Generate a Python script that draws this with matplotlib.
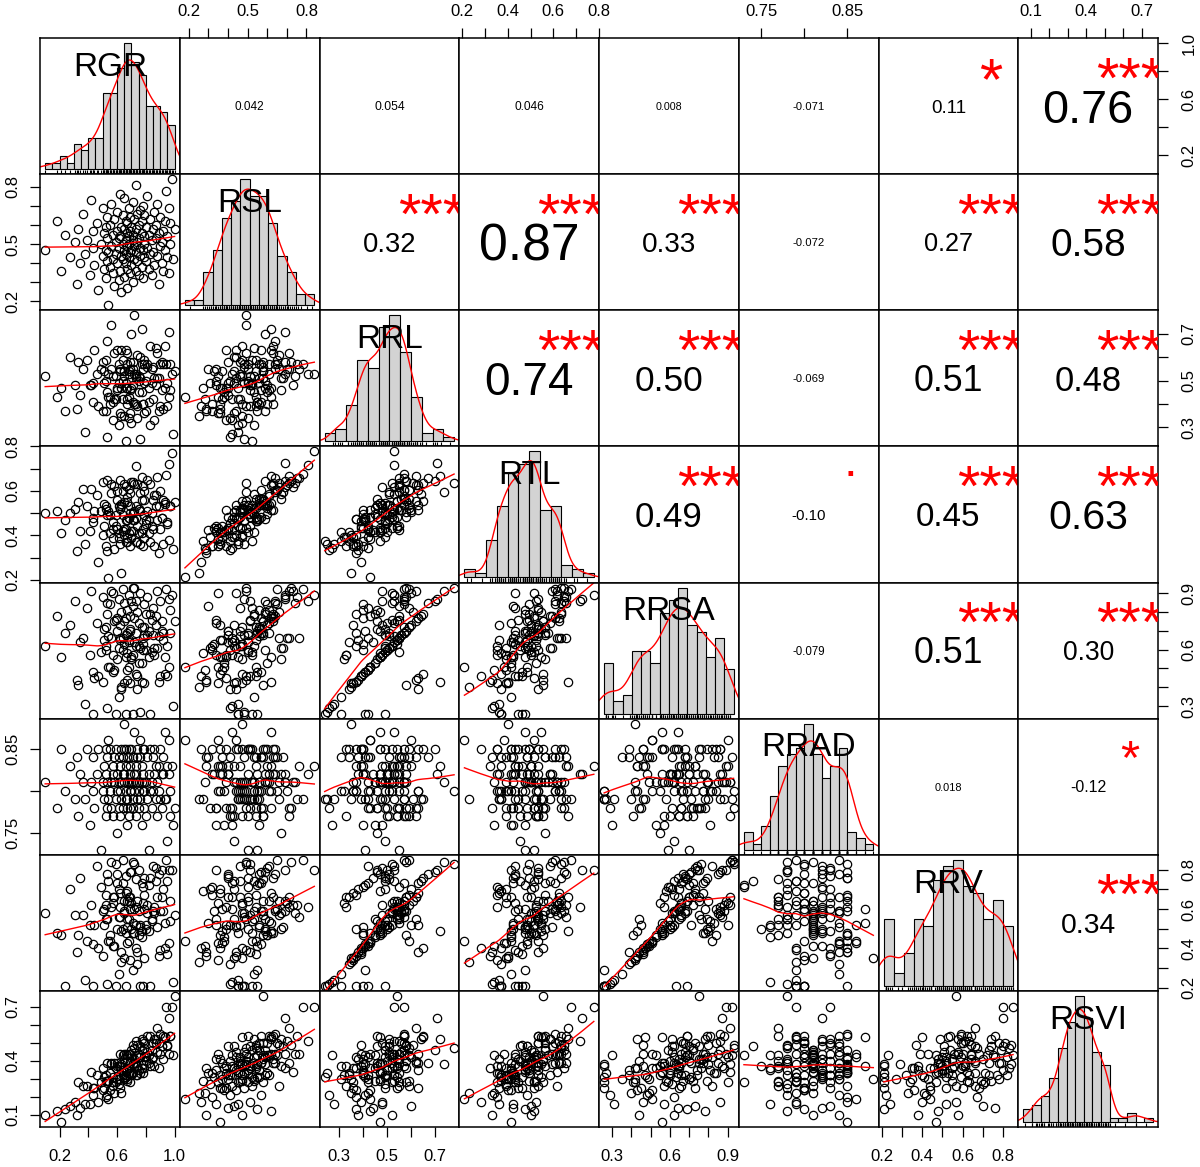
import numpy as np
import matplotlib
matplotlib.use("Agg")
import matplotlib.pyplot as plt
from matplotlib.transforms import offset_copy

plt.rcParams['font.family'] = ['Liberation Sans', 'DejaVu Sans']

NAMES = ["RGR", "RSL", "RRL", "RTL", "RRSA", "RRAD", "RRV", "RSVI"]

# ---- observations (one value per sample, same sample order in every list) ----
RGR = [0.10, 0.18, 0.21, 0.24, 0.27, 0.31, 0.32, 0.33, 0.34, 0.36,
       0.38, 0.39, 0.41, 0.42, 0.43, 0.43, 0.44, 0.46, 0.47, 0.49,
       0.50, 0.50, 0.51, 0.51, 0.52, 0.52, 0.52, 0.53, 0.53, 0.53,
       0.54, 0.54, 0.55, 0.55, 0.56, 0.56, 0.57, 0.57, 0.57, 0.58,
       0.58, 0.59, 0.59, 0.60, 0.60, 0.60, 0.61, 0.61, 0.61, 0.62,
       0.62, 0.62, 0.63, 0.63, 0.63, 0.64, 0.64, 0.64, 0.65, 0.65,
       0.65, 0.65, 0.66, 0.66, 0.66, 0.66, 0.67, 0.67, 0.67, 0.67,
       0.67, 0.68, 0.68, 0.68, 0.68, 0.69, 0.69, 0.69, 0.69, 0.70,
       0.70, 0.70, 0.71, 0.71, 0.71, 0.71, 0.72, 0.72, 0.72, 0.73,
       0.73, 0.73, 0.73, 0.74, 0.74, 0.74, 0.75, 0.75, 0.75, 0.76,
       0.76, 0.76, 0.77, 0.77, 0.77, 0.78, 0.78, 0.78, 0.79, 0.79,
       0.79, 0.79, 0.80, 0.80, 0.81, 0.81, 0.82, 0.82, 0.83, 0.83,
       0.84, 0.84, 0.85, 0.85, 0.86, 0.86, 0.87, 0.87, 0.88, 0.88,
       0.89, 0.89, 0.90, 0.90, 0.91, 0.91, 0.92, 0.92, 0.93, 0.93,
       0.94, 0.95, 0.95, 0.96, 0.96, 0.97, 0.97, 0.98, 0.99, 1.00]

RSL = [0.47, 0.62, 0.36, 0.55, 0.43, 0.51, 0.29, 0.58, 0.40, 0.66,
       0.45, 0.52, 0.34, 0.73, 0.48, 0.57, 0.39, 0.61, 0.26, 0.50,
       0.44, 0.69, 0.37, 0.56, 0.47, 0.32, 0.59, 0.41, 0.64, 0.53,
       0.18, 0.46, 0.38, 0.60, 0.49, 0.71, 0.35, 0.55, 0.42, 0.63,
       0.28, 0.51, 0.45, 0.57, 0.40, 0.67, 0.31, 0.53, 0.48, 0.76,
       0.36, 0.54, 0.44, 0.59, 0.25, 0.50, 0.65, 0.42, 0.47, 0.58,
       0.33, 0.74, 0.52, 0.40, 0.62, 0.45, 0.56, 0.37, 0.61, 0.49,
       0.27, 0.54, 0.69, 0.43, 0.50, 0.35, 0.64, 0.46, 0.57, 0.39,
       0.59, 0.47, 0.72, 0.52, 0.30, 0.55, 0.42, 0.63, 0.49, 0.36,
       0.58, 0.46, 0.81, 0.51, 0.66, 0.41, 0.53, 0.34, 0.60, 0.44,
       0.68, 0.48, 0.56, 0.38, 0.62, 0.47, 0.70, 0.32, 0.54, 0.43,
       0.65, 0.50, 0.41, 0.59, 0.48, 0.75, 0.37, 0.55, 0.63, 0.45,
       0.52, 0.34, 0.58, 0.46, 0.67, 0.39, 0.53, 0.60, 0.44, 0.71,
       0.29, 0.56, 0.49, 0.64, 0.40, 0.51, 0.57, 0.36, 0.62, 0.47,
       0.78, 0.54, 0.43, 0.69, 0.35, 0.61, 0.50, 0.84, 0.42, 0.58]

RRL = [0.52, 0.43, 0.47, 0.37, 0.60, 0.48, 0.38, 0.58, 0.44, 0.55,
       0.28, 0.59, 0.48, 0.48, 0.49, 0.41, 0.63, 0.53, 0.39, 0.55,
       0.37, 0.58, 0.54, 0.49, 0.59, 0.37, 0.50, 0.26, 0.67, 0.45,
       0.43, 0.53, 0.43, 0.40, 0.74, 0.55, 0.52, 0.41, 0.33, 0.62,
       0.42, 0.52, 0.42, 0.63, 0.47, 0.46, 0.49, 0.31, 0.57, 0.55,
       0.36, 0.54, 0.63, 0.47, 0.35, 0.50, 0.59, 0.42, 0.35, 0.54,
       0.54, 0.52, 0.24, 0.49, 0.63, 0.47, 0.40, 0.42, 0.57, 0.62,
       0.47, 0.43, 0.53, 0.54, 0.34, 0.36, 0.55, 0.58, 0.46, 0.47,
       0.70, 0.32, 0.58, 0.48, 0.55, 0.41, 0.53, 0.40, 0.78, 0.40,
       0.51, 0.52, 0.53, 0.39, 0.61, 0.34, 0.52, 0.50, 0.45, 0.60,
       0.51, 0.25, 0.57, 0.45, 0.72, 0.40, 0.55, 0.40, 0.59, 0.36,
       0.57, 0.49, 0.50, 0.37, 0.56, 0.57, 0.47, 0.41, 0.65, 0.31,
       0.49, 0.55, 0.56, 0.42, 0.51, 0.33, 0.64, 0.48, 0.51, 0.62,
       0.37, 0.51, 0.39, 0.57, 0.58, 0.46, 0.57, 0.38, 0.47, 0.65,
       0.57, 0.39, 0.49, 0.71, 0.43, 0.46, 0.57, 0.53, 0.27, 0.54]

RTL = [0.50, 0.51, 0.41, 0.47, 0.50, 0.52, 0.33, 0.55, 0.42, 0.61,
       0.36, 0.53, 0.42, 0.61, 0.46, 0.48, 0.51, 0.58, 0.28, 0.51,
       0.40, 0.64, 0.44, 0.54, 0.52, 0.35, 0.53, 0.33, 0.65, 0.49,
       0.21, 0.51, 0.41, 0.49, 0.59, 0.63, 0.43, 0.46, 0.39, 0.62,
       0.34, 0.49, 0.44, 0.60, 0.43, 0.56, 0.39, 0.41, 0.53, 0.65,
       0.36, 0.52, 0.53, 0.54, 0.23, 0.49, 0.60, 0.42, 0.40, 0.55,
       0.43, 0.63, 0.37, 0.43, 0.62, 0.47, 0.47, 0.39, 0.57, 0.55,
       0.37, 0.48, 0.61, 0.48, 0.41, 0.35, 0.59, 0.50, 0.53, 0.42,
       0.64, 0.39, 0.64, 0.50, 0.42, 0.47, 0.47, 0.51, 0.63, 0.37,
       0.53, 0.48, 0.71, 0.44, 0.63, 0.37, 0.52, 0.41, 0.52, 0.51,
       0.59, 0.36, 0.56, 0.41, 0.66, 0.43, 0.62, 0.35, 0.56, 0.39,
       0.60, 0.49, 0.45, 0.47, 0.51, 0.65, 0.41, 0.47, 0.63, 0.37,
       0.50, 0.44, 0.56, 0.43, 0.58, 0.35, 0.58, 0.53, 0.47, 0.66,
       0.32, 0.53, 0.43, 0.60, 0.48, 0.48, 0.56, 0.36, 0.54, 0.55,
       0.67, 0.46, 0.45, 0.72, 0.38, 0.53, 0.53, 0.77, 0.34, 0.55]

RRSA = [0.62, 0.78, 0.56, 0.69, 0.73, 0.86, 0.44, 0.41, 0.64, 0.66,
        0.31, 0.82, 0.57, 0.91, 0.26, 0.48, 0.45, 0.74, 0.46, 0.59,
        0.43, 0.88, 0.65, 0.71, 0.72, 0.62, 0.60, 0.29, 0.85, 0.79,
        0.51, 0.67, 0.51, 0.84, 0.91, 0.66, 0.90, 0.48, 0.57, 0.75,
        0.49, 0.76, 0.26, 0.77, 0.70, 0.55, 0.61, 0.35, 0.87, 0.66,
        0.73, 0.65, 0.39, 0.80, 0.40, 0.60, 0.92, 0.66, 0.42, 0.75,
        0.63, 0.85, 0.26, 0.68, 0.77, 0.56, 0.81, 0.49, 0.69, 0.44,
        0.58, 0.51, 0.89, 0.65, 0.64, 0.42, 0.78, 0.70, 0.71, 0.56,
        0.86, 0.55, 0.93, 0.57, 0.83, 0.26, 0.64, 0.77, 0.93, 0.47,
        0.69, 0.62, 0.86, 0.46, 0.80, 0.39, 0.62, 0.74, 0.53, 0.90,
        0.61, 0.27, 0.72, 0.53, 0.43, 0.63, 0.66, 0.60, 0.72, 0.42,
        0.84, 0.68, 0.60, 0.79, 0.68, 0.88, 0.56, 0.70, 0.79, 0.26,
        0.59, 0.76, 0.68, 0.82, 0.61, 0.57, 0.78, 0.73, 0.61, 0.91,
        0.43, 0.67, 0.46, 0.86, 0.70, 0.75, 0.69, 0.65, 0.56, 0.47,
        0.92, 0.46, 0.62, 0.87, 0.51, 0.81, 0.69, 0.89, 0.30, 0.75]

RRAD = [0.81, 0.78, 0.85, 0.80, 0.83, 0.79, 0.84, 0.77, 0.82, 0.81,
        0.79, 0.85, 0.76, 0.81, 0.80, 0.84, 0.78, 0.82, 0.85, 0.73,
        0.80, 0.81, 0.83, 0.79, 0.77, 0.85, 0.82, 0.78, 0.84, 0.81,
        0.86, 0.79, 0.80, 0.85, 0.81, 0.78, 0.83, 0.82, 0.77, 0.84,
        0.81, 0.85, 0.79, 0.80, 0.82, 0.75, 0.78, 0.84, 0.81, 0.83,
        0.80, 0.77, 0.85, 0.81, 0.79, 0.82, 0.84, 0.78, 0.88, 0.85,
        0.82, 0.81, 0.79, 0.83, 0.80, 0.85, 0.76, 0.84, 0.81, 0.78,
        0.79, 0.84, 0.81, 0.77, 0.85, 0.80, 0.82, 0.83, 0.78, 0.81,
        0.85, 0.80, 0.78, 0.81, 0.84, 0.79, 0.87, 0.82, 0.80, 0.83,
        0.77, 0.81, 0.82, 0.85, 0.79, 0.84, 0.80, 0.78, 0.81, 0.86,
        0.84, 0.79, 0.81, 0.76, 0.83, 0.85, 0.80, 0.82, 0.78, 0.81,
        0.80, 0.85, 0.77, 0.81, 0.84, 0.79, 0.82, 0.73, 0.85, 0.80,
        0.81, 0.78, 0.84, 0.80, 0.82, 0.85, 0.79, 0.83, 0.81, 0.77,
        0.83, 0.80, 0.79, 0.85, 0.82, 0.78, 0.84, 0.82, 0.87, 0.79,
        0.79, 0.83, 0.74, 0.82, 0.86, 0.80, 0.77, 0.83, 0.76, 0.78]

RRV = [0.58, 0.48, 0.47, 0.21, 0.70, 0.57, 0.38, 0.47, 0.76, 0.57,
       0.24, 0.44, 0.52, 0.62, 0.21, 0.42, 0.52, 0.82, 0.40, 0.71,
       0.36, 0.59, 0.60, 0.52, 0.62, 0.67, 0.55, 0.22, 0.78, 0.55,
       0.44, 0.74, 0.44, 0.47, 0.84, 0.61, 0.63, 0.41, 0.66, 0.66,
       0.41, 0.83, 0.21, 0.73, 0.78, 0.50, 0.70, 0.27, 0.56, 0.56,
       0.68, 0.61, 0.38, 0.49, 0.33, 0.50, 0.85, 0.73, 0.35, 0.64,
       0.59, 0.58, 0.21, 0.77, 0.68, 0.48, 0.51, 0.43, 0.64, 0.55,
       0.69, 0.44, 0.64, 0.55, 0.66, 0.34, 0.60, 0.66, 0.79, 0.50,
       0.79, 0.63, 0.84, 0.48, 0.53, 0.29, 0.60, 0.48, 0.83, 0.40,
       0.75, 0.52, 0.61, 0.38, 0.64, 0.32, 0.59, 0.80, 0.47, 0.52,
       0.51, 0.21, 0.73, 0.46, 0.49, 0.21, 0.63, 0.71, 0.67, 0.35,
       0.60, 0.76, 0.52, 0.50, 0.58, 0.62, 0.49, 0.72, 0.76, 0.21,
       0.54, 0.55, 0.59, 0.82, 0.58, 0.61, 0.74, 0.81, 0.51, 0.66,
       0.36, 0.78, 0.39, 0.59, 0.66, 0.80, 0.59, 0.70, 0.53, 0.40,
       0.85, 0.37, 0.74, 0.80, 0.43, 0.54, 0.64, 0.80, 0.23, 0.57]

RSVI = [0.10, 0.12, 0.06, 0.13, 0.15, 0.17, 0.10, 0.28, 0.14, 0.26,
        0.16, 0.26, 0.16, 0.34, 0.25, 0.21, 0.25, 0.32, 0.17, 0.28,
        0.24, 0.36, 0.25, 0.31, 0.29, 0.20, 0.32, 0.21, 0.39, 0.29,
        0.19, 0.29, 0.24, 0.33, 0.38, 0.39, 0.28, 0.31, 0.26, 0.39,
        0.22, 0.36, 0.28, 0.39, 0.30, 0.37, 0.27, 0.30, 0.37, 0.44,
        0.25, 0.37, 0.35, 0.38, 0.22, 0.35, 0.43, 0.32, 0.30, 0.41,
        0.31, 0.44, 0.31, 0.32, 0.44, 0.34, 0.35, 0.30, 0.43, 0.40,
        0.29, 0.36, 0.44, 0.36, 0.33, 0.28, 0.44, 0.40, 0.39, 0.33,
        0.46, 0.32, 0.49, 0.39, 0.33, 0.38, 0.37, 0.41, 0.47, 0.32,
        0.43, 0.39, 0.51, 0.37, 0.49, 0.32, 0.42, 0.35, 0.43, 0.42,
        0.48, 0.33, 0.46, 0.36, 0.52, 0.38, 0.51, 0.33, 0.47, 0.36,
        0.50, 0.42, 0.40, 0.42, 0.45, 0.54, 0.39, 0.43, 0.54, 0.37,
        0.46, 0.41, 0.50, 0.42, 0.52, 0.37, 0.52, 0.50, 0.45, 0.58,
        0.36, 0.50, 0.44, 0.55, 0.48, 0.48, 0.54, 0.41, 0.53, 0.53,
        0.70, 0.49, 0.48, 0.64, 0.44, 0.54, 0.54, 0.70, 0.43, 0.76]

# ---- upper-panel correlation texts (row-major over i<j) and significance ----
UPPER_TEXT = ["0.042", "0.054", "0.046", "0.008", "-0.071", "0.11", "0.76",
              "0.32", "0.87", "0.33", "-0.072", "0.27", "0.58",
              "0.74", "0.50", "-0.069", "0.51", "0.48",
              "0.49", "-0.10", "0.45", "0.63",
              "-0.079", "0.51", "0.30",
              "0.018", "-0.12",
              "0.34"]
UPPER_SIGNIF = ["", "", "", "", "", "*", "***",
                "***", "***", "***", "", "***", "***",
                "***", "***", "", "***", "***",
                "***", ".", "***", "***",
                "", "***", "***",
                "", "*",
                "***"]

# ---- axis ticks / tick labels ----
TICKS = {
    "RGR": [0.2, 0.4, 0.6, 0.8, 1.0],
    "RSL": [0.2, 0.3, 0.4, 0.5, 0.6, 0.7, 0.8],
    "RRL": [0.3, 0.4, 0.5, 0.6, 0.7],
    "RTL": [0.2, 0.3, 0.4, 0.5, 0.6, 0.7, 0.8],
    "RRSA": [0.3, 0.4, 0.5, 0.6, 0.7, 0.8, 0.9],
    "RRAD": [0.75, 0.80, 0.85],
    "RRV": [0.2, 0.3, 0.4, 0.5, 0.6, 0.7, 0.8],
    "RSVI": [0.1, 0.2, 0.3, 0.4, 0.5, 0.6, 0.7],
}
TICK_LABELS = {
    "RGR": ["0.2", "", "0.6", "", "1.0"],
    "RSL": ["0.2", "", "", "0.5", "", "", "0.8"],
    "RRL": ["0.3", "", "0.5", "", "0.7"],
    "RTL": ["0.2", "", "0.4", "", "0.6", "", "0.8"],
    "RRSA": ["0.3", "", "", "0.6", "", "", "0.9"],
    "RRAD": ["0.75", "", "0.85"],
    "RRV": ["0.2", "", "0.4", "", "0.6", "", "0.8"],
    "RSVI": ["0.1", "", "", "0.4", "", "", "0.7"],
}
BIN_W = {"RGR": 0.05, "RSL": 0.05, "RRL": 0.05, "RTL": 0.05,
         "RRSA": 0.05, "RRAD": 0.01, "RRV": 0.05, "RSVI": 0.05}

DATA = [RGR, RSL, RRL, RTL, RRSA, RRAD, RRV, RSVI]


# ---------------- helpers (R-like statistics) ----------------
def lowess(x, y, f=2.0 / 3.0, iters=3):
    x = np.asarray(x, float)
    y = np.asarray(y, float)
    o = np.argsort(x, kind="mergesort")
    x, y = x[o], y[o]
    n = len(x)
    ns = max(min(int(f * n + 1e-7), n), 2)
    rw = np.ones(n)
    ys = np.zeros(n)
    rng = x[-1] - x[0]
    for it in range(iters + 1):
        for i in range(n):
            d = np.abs(x - x[i])
            h = np.sort(d)[ns - 1]
            if h > 0:
                r = d / h
                w = np.where(r < 0.999, (1 - np.clip(r, 0, 1) ** 3) ** 3, 0.0)
                w[r <= 0.001] = 1.0
            else:
                w = (d == 0).astype(float)
            w = w * rw
            s = w.sum()
            if s <= 0:
                ys[i] = y[i]
                continue
            w = w / s
            xm = (w * x).sum()
            var = (w * (x - xm) ** 2).sum()
            if h > 0 and np.sqrt(var) > 0.001 * rng:
                b = (w * (x - xm) * y).sum() / var
                ys[i] = (w * y).sum() + b * (x[i] - xm)
            else:
                ys[i] = (w * y).sum()
        if it == iters:
            break
        res = y - ys
        cmad = 6 * np.median(np.abs(res))
        if cmad < 1e-7:
            break
        u = np.abs(res) / cmad
        rw = np.where(u < 1, (1 - u ** 2) ** 2, 0.0)
        rw[u <= 0.001] = 1.0
    return x, ys


def bw_nrd0(x):
    sd = np.std(x, ddof=1)
    q75, q25 = np.percentile(x, [75, 25])
    lo = min(sd, (q75 - q25) / 1.34)
    if lo <= 0:
        lo = sd if sd > 0 else 1.0
    return 0.9 * lo * len(x) ** (-0.2)


def kde(x):
    x = np.asarray(x, float)
    bw = bw_nrd0(x)
    g = np.linspace(x.min() - 3 * bw, x.max() + 3 * bw, 512)
    dens = np.exp(-0.5 * ((g[:, None] - x[None, :]) / bw) ** 2).sum(1)
    dens /= len(x) * bw * np.sqrt(2 * np.pi)
    return g, dens


def hist_r(x, w):
    x = np.round(np.asarray(x, float), 6)
    lo = np.floor(x.min() / w + 1e-9) * w
    hi = np.ceil(x.max() / w - 1e-9) * w
    nb = int(round((hi - lo) / w))
    edges = np.round(lo + w * np.arange(nb + 1), 6)
    idx = np.searchsorted(edges, x, side="left") - 1
    idx = np.clip(idx, 0, nb - 1)
    counts = np.bincount(idx, minlength=nb)
    return edges, counts / (len(x) * w)


def var_lim(v):
    v = np.asarray(v, float)
    mn, mx = v.min(), v.max()
    r = mx - mn
    return mn - 0.04 * r, mx + 0.04 * r


# ---------------- figure ----------------
W_PX, H_PX = 1200, 1167
fig = plt.figure(figsize=(W_PX / 100, H_PX / 100), dpi=100)
renderer = fig.canvas.get_renderer()

L, R = 40 / W_PX, 1158 / W_PX
B, T = 1 - 1127 / H_PX, 1 - 38 / H_PX
n = len(NAMES)
pw, ph = (R - L) / n, (T - B) / n
panel_w_px = pw * W_PX

LW = 1.1
TICK_LEN = 7
TICK_FS = 12


def text_width_px(s, fs):
    t = fig.text(0, 0, s, fontsize=fs)
    w = t.get_window_extent(renderer).width
    t.remove()
    return w


def ink_text(ax, x, y, s, fs, center_em, **kw):
    tr = offset_copy(ax.transAxes, fig=fig, x=0, y=-center_em * fs, units="points")
    return ax.text(x, y, s, transform=tr, fontsize=fs, ha="center", va="baseline", **kw)


lims = [var_lim(v) for v in DATA]
axes = [[None] * n for _ in range(n)]
k = 0
for i in range(n):
    for j in range(n):
        ax = fig.add_axes([L + j * pw, T - (i + 1) * ph, pw, ph])
        axes[i][j] = ax
        for sp in ax.spines.values():
            sp.set_linewidth(LW)
        ax.set_xticks([])
        ax.set_yticks([])
        if i == j:
            x = np.asarray(DATA[i], float)
            edges, dens = hist_r(x, BIN_W[NAMES[i]])
            span = edges[-1] - edges[0]
            ax.set_xlim(edges[0] - 0.04 * span, edges[-1] + 0.04 * span)
            top = dens.max()
            ax.set_ylim(-0.04 * top, 1.04 * top)
            ax.bar(edges[:-1], dens, width=np.diff(edges), align="edge",
                   color="#D3D3D3", edgecolor="black", linewidth=0.8, zorder=1)
            g, d = kde(x)
            ax.plot(g, d, color="red", lw=1.0, zorder=2)
            y0 = -0.04 * top
            ax.vlines(x, y0, y0 + 0.03 * 1.08 * top, color="black", lw=0.8, zorder=3)
            ink_text(ax, 0.5, 0.81, NAMES[i], 24, 0.358, zorder=4)
        elif i > j:
            x = np.asarray(DATA[j], float)
            y = np.asarray(DATA[i], float)
            ax.set_xlim(*lims[j])
            ax.set_ylim(*lims[i])
            ax.plot(x, y, "o", ms=6.0, mfc="none", mec="black", mew=0.9, zorder=1)
            sx, sy = lowess(x, y)
            ax.plot(sx, sy, color="red", lw=1.0, zorder=2)
        else:
            ax.set_xlim(*lims[j])
            ax.set_ylim(*lims[i])
            txt = UPPER_TEXT[k]
            sig = UPPER_SIGNIF[k]
            k += 1
            r = abs(float(txt))
            w100 = text_width_px(txt, 100)
            cex_fs = 100 * 0.8 * panel_w_px / w100
            main_fs = cex_fs * (r + 0.3) / 1.3
            ink_text(ax, 0.5, 0.5, txt, main_fs, 0.358, color="black")
            if sig:
                cem = 0.56 if "*" in sig else 0.05
                ink_text(ax, 0.8, 0.8, sig, cex_fs, cem, color="red", clip_on=True)

# ---------------- axes (R pairs style alternating) ----------------
for j in range(n):
    name = NAMES[j]
    if j % 2 == 1:
        ax = axes[0][j]
        ax.xaxis.set_ticks_position("top")
        ax.set_xticks(TICKS[name])
        ax.set_xticklabels(TICK_LABELS[name])
        ax.tick_params(axis="x", top=True, bottom=False, labeltop=True, labelbottom=False,
                       direction="out", length=TICK_LEN, width=0.9, labelsize=TICK_FS, pad=7)
    else:
        ax = axes[n - 1][j]
        ax.set_xticks(TICKS[name])
        ax.set_xticklabels(TICK_LABELS[name])
        ax.tick_params(axis="x", direction="out", length=TICK_LEN, width=0.9,
                       labelsize=TICK_FS, pad=9)

for i in range(n):
    name = NAMES[i]
    if i % 2 == 1:
        ax = axes[i][0]
        ax.set_yticks(TICKS[name])
        ax.set_yticklabels(TICK_LABELS[name], rotation=90, va="center")
        ax.tick_params(axis="y", direction="out", length=TICK_LEN, width=0.9,
                       labelsize=TICK_FS, pad=7)
    else:
        ax = axes[i][n - 1]
        ax.yaxis.set_ticks_position("right")
        ax.set_yticks(TICKS[name])
        ax.set_yticklabels(TICK_LABELS[name], rotation=90, va="center")
        ax.tick_params(axis="y", right=True, left=False, labelright=True, labelleft=False,
                       direction="out", length=TICK_LEN, width=0.9, labelsize=TICK_FS, pad=10)

fig.savefig("out.png", dpi=100, facecolor="white")
